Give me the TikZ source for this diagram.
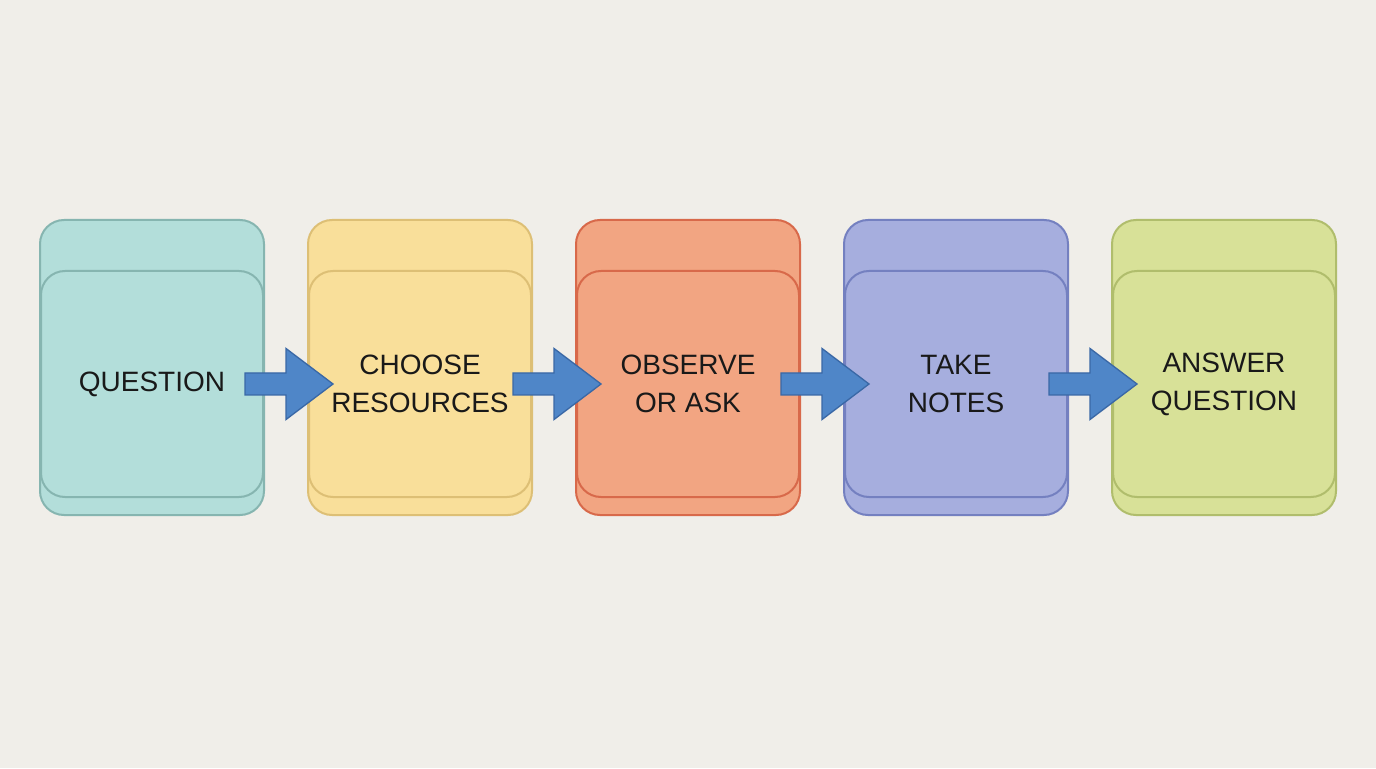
\documentclass[tikz,border=0pt]{standalone}
\usepackage{fontspec}
\setmainfont{Liberation Sans}
\usetikzlibrary{positioning, calc}

\definecolor{paper}{HTML}{F0EEE9}
\definecolor{tealfill}{HTML}{B3DEDA}
\definecolor{tealline}{HTML}{86B5B0}
\definecolor{sandfill}{HTML}{F9DF9A}
\definecolor{sandline}{HTML}{DDBF75}
\definecolor{coralfill}{HTML}{F2A582}
\definecolor{coralline}{HTML}{D8694A}
\definecolor{lilacfill}{HTML}{A6AEDE}
\definecolor{lilacline}{HTML}{7480C0}
\definecolor{limefill}{HTML}{D8E198}
\definecolor{limeline}{HTML}{B0BD6C}
\definecolor{arrowfill}{HTML}{4F86C8}
\definecolor{arrowline}{HTML}{3A68A6}

% block arrow from one card into the next
\newcommand{\flowarrow}[2]{%
    \path ($(#1.east)+(-19,0)$) coordinate (#1-s)
          ($(#2.west)+(25,0)$) coordinate (#1-t);
    \draw[flow arrow] ($(#1-s)+(0,11)$) -- ($(#1-t)+(-47,11)$)
        -- ($(#1-t)+(-47,35.5)$) -- (#1-t) -- ($(#1-t)+(-47,-35.5)$)
        -- ($(#1-t)+(-47,-11)$) -- ($(#1-s)+(0,-11)$) -- cycle;
}

\begin{document}
\begin{tikzpicture}[x=0.75pt, y=0.75pt,
    back card/.style={draw, line width=1.5pt, rounded corners=18pt,
        minimum width=168pt, minimum height=221.25pt, inner sep=0pt},
    front card/.style={draw, line width=1.5pt, rounded corners=18pt,
        minimum width=166.5pt, minimum height=169.5pt, inner sep=0pt,
        align=center, text=black!90,
        font=\fontsize{21}{28.5}\selectfont},
    flow arrow/.style={fill=arrowfill, draw=arrowline, line width=1pt,
        line join=miter},
    node distance=31.5pt]

    \fill[paper] (0,0) rectangle (1376,768);
    \useasboundingbox (0,0) rectangle (1376,768);

    % back cards
    \node[back card, fill=tealfill, draw=tealline] (b1) at (152,400.5) {};
    \node[back card, fill=sandfill, draw=sandline, right=of b1] (b2) {};
    \node[back card, fill=coralfill, draw=coralline, right=of b2] (b3) {};
    \node[back card, fill=lilacfill, draw=lilacline, right=of b3] (b4) {};
    \node[back card, fill=limefill, draw=limeline, right=of b4] (b5) {};

    % front cards
    \node[front card, fill=tealfill, draw=tealline] (question) at ($(b1)+(0,-16.5)$) {QUESTION};
    \node[front card, fill=sandfill, draw=sandline] (choose) at ($(b2)+(0,-16.5)$) {CHOOSE\\RESOURCES};
    \node[front card, fill=coralfill, draw=coralline] (observe) at ($(b3)+(0,-16.5)$) {OBSERVE\\OR ASK};
    \node[front card, fill=lilacfill, draw=lilacline] (notes) at ($(b4)+(0,-16.5)$) {TAKE\\NOTES};
    \node[front card, fill=limefill, draw=limeline] (answer) at ($(b5)+(0,-16.5)$) {ANSWER\\QUESTION};

    \flowarrow{question}{choose}
    \flowarrow{choose}{observe}
    \flowarrow{observe}{notes}
    \flowarrow{notes}{answer}

\end{tikzpicture}
\end{document}
